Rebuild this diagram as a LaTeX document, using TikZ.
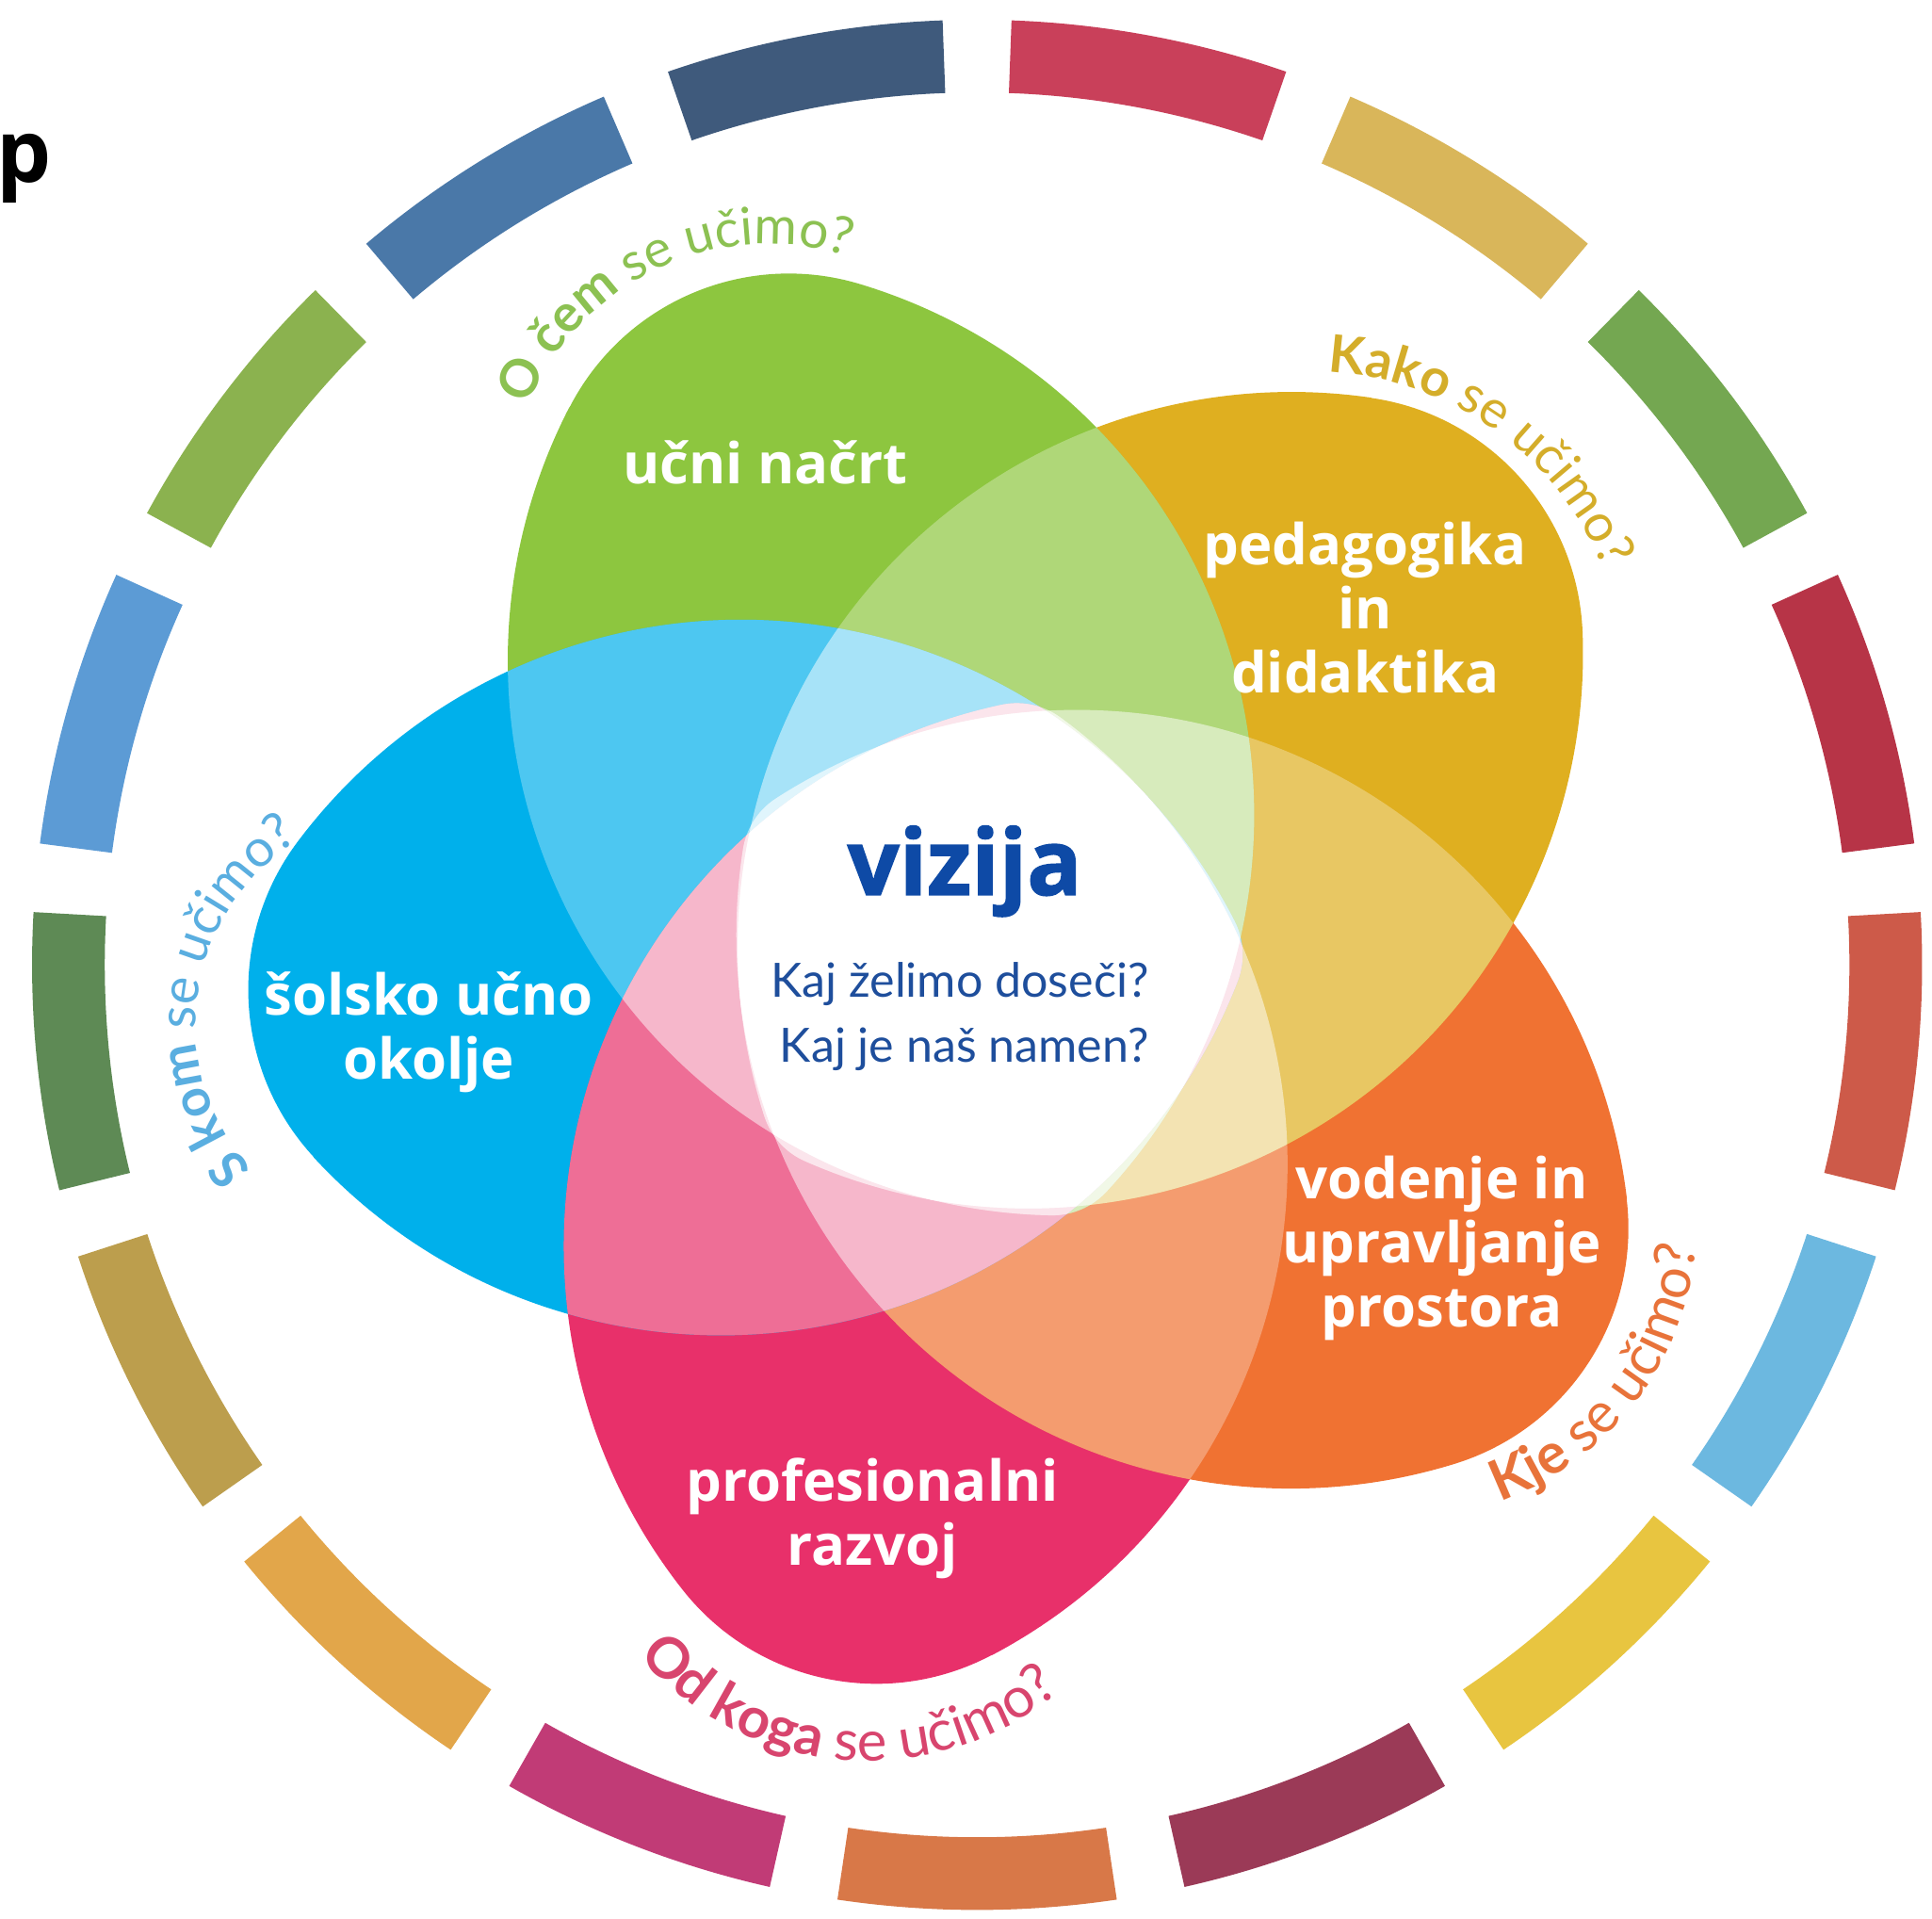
\documentclass[tikz,border=0pt]{standalone}
\usepackage{fontspec}
\setmainfont{Open Sans}
\newfontfamily\latofont{Lato}
\usetikzlibrary{decorations.text}
% petal colours
\definecolor{petgreen}{HTML}{8DC63F}
\definecolor{petyellow}{HTML}{DFAF20}
\definecolor{petorange}{HTML}{F07232}
\definecolor{petpink}{HTML}{E8306A}
\definecolor{petblue}{HTML}{00B0EB}
\definecolor{visionblue}{HTML}{0E4AA6}
\definecolor{questblue}{HTML}{1E4E9C}
% label colours
\definecolor{qgreen}{HTML}{8CC152}
\definecolor{qgold}{HTML}{D4AD2A}
\definecolor{qblue}{HTML}{5AAEE0}
\definecolor{qorange}{HTML}{E8733A}
\definecolor{qpink}{HTML}{D8456E}
% ring colours
\definecolor{sdgA}{HTML}{C9405A}
\definecolor{sdgB}{HTML}{D9B65A}
\definecolor{sdgC}{HTML}{74A751}
\definecolor{sdgD}{HTML}{B73447}
\definecolor{sdgE}{HTML}{CD5A49}
\definecolor{sdgF}{HTML}{6CB8E0}
\definecolor{sdgG}{HTML}{E8C540}
\definecolor{sdgH}{HTML}{9B3A57}
\definecolor{sdgI}{HTML}{D87848}
\definecolor{sdgJ}{HTML}{C13B76}
\definecolor{sdgK}{HTML}{E2A64A}
\definecolor{sdgL}{HTML}{BC9E4D}
\definecolor{sdgM}{HTML}{5E8A55}
\definecolor{sdgN}{HTML}{5C9BD5}
\definecolor{sdgO}{HTML}{8BB24F}
\definecolor{sdgP}{HTML}{4A78A8}
\definecolor{sdgQ}{HTML}{3F5A7C}
\newcommand\ringfont{\latofont\fontsize{12}{14}\selectfont}
\newcommand\ringfontlow{\latofont\fontsize{13}{15}\selectfont}
\def\petalshape{(545.7,128.0) arc[start angle=39.8, end angle=155.8, radius=450]
  arc[start angle=155.8, end angle=204.2, radius=60]
  arc[start angle=204.2, end angle=320.2, radius=450]
  arc[start angle=-39.8, end angle=39.8, radius=200] -- cycle}
\tikzset{
  petal/.style={shift={(793,-783)}, rotate=#1},
  petallabel/.style={font=\fontsize{13}{14.8}\selectfont\bfseries,
    text=white, align=center, inner sep=0pt},
  ringlabel/.style={decorate, decoration={text along path,
    text align=center, text color=#1, text={}}},
}
\begin{document}
\begin{tikzpicture}[x=0.01cm, y=0.01cm]
  \useasboundingbox (0,0) rectangle (1568,-1557);
  \fill[white] (0,0) rectangle (1568,-1557);
  \coordinate (ring) at (793,-783);

  % Outer ring
  \foreach \c [count=\k] in {sdgA,sdgB,sdgC,sdgD,sdgE,sdgF,sdgG,sdgH,sdgI,
                             sdgJ,sdgK,sdgL,sdgM,sdgN,sdgO,sdgP,sdgQ} {
    \pgfmathsetmacro\sa{79.41-(\k-1)*21.176+8.5}
    \pgfmathsetmacro\ea{79.41-(\k-1)*21.176-8.5}
    \fill[\c, shift={(ring)}] (\sa:767) arc[start angle=\sa, end angle=\ea, radius=767]
      -- (\ea:708) arc[start angle=\ea, end angle=\sa, radius=708] -- cycle;
  }

  % Petals
  \fill[petpink, petal=-102] \petalshape;
  \fill[petorange, petal=-33] \petalshape;
  \fill[petyellow, petal=42] \petalshape;
  \fill[petgreen, petal=113] \petalshape;
  \fill[petblue, petal=183] \petalshape;
  \begin{scope}
    \clip[petal=183] \petalshape;
    \fill[petpink, petal=-102] \petalshape;
  \end{scope}

  % Overlaps get lighter
  \foreach \a/\b in {113/42,113/-33,113/-102,113/183,42/-33,42/-102,42/183,
                     -33/-102,-33/183,-102/183} {
    \begin{scope}
      \clip[petal=\a] \petalshape;
      \fill[white, fill opacity=.3, petal=\b] \petalshape;
    \end{scope}
  }
  % where all five meet
  \begin{scope}
    \clip[petal=113] \petalshape;
    \clip[petal=42] \petalshape;
    \clip[petal=-33] \petalshape;
    \clip[petal=-102] \petalshape;
    \clip[petal=183] \petalshape;
    \fill[white] (0,0) rectangle (1568,-1557);
  \end{scope}

  % Petal labels
  \node[petallabel] (ucni) at (621,-375) {učni načrt};
  \node[petallabel] (pedag) at (1108,-493) {pedagogika\\in\\didaktika};
  \node[petallabel] (okolje) at (348,-838) {šolsko učno\\okolje};
  \node[petallabel] (vodenje) at (1170,-1013) {vodenje in\\upravljanje\\prostora};
  \node[petallabel] (razvoj) at (708,-1232) {profesionalni\\razvoj};

  % Centre
  \node[font=\fontsize{21}{24}\selectfont\bfseries\addfontfeatures{FakeBold=1.5},
        text=visionblue, inner sep=0pt] (vizija) at (783,-707) {vizija};
  \node[font=\latofont\fontsize{10.9}{15}\selectfont, text=questblue,
        align=right, inner sep=0pt] (kaj) at (779,-825)
        {Kaj želimo doseči?\\Kaj je naš namen?};

  % Questions round the petals
  \path[ringlabel=qgreen, decoration={text={|\ringfont\bfseries|O čem |\ringfont\mdseries|se učimo?}}]
    (624,-409) ++(160:211) arc[start angle=160, end angle=70, radius=211];
  \path[ringlabel=qgold, decoration={text={|\ringfont\bfseries|Kako |\ringfont\mdseries|se učimo?}}]
    (1066,-555) ++(100:253) arc[start angle=100, end angle=9, radius=253];
  \path[ringlabel=qblue, decoration={text={|\ringfont\bfseries|S kom |\ringfont\mdseries|se učimo?}}]
    (334,-831) ++(226:175) arc[start angle=226, end angle=118, radius=175];
  \path[ringlabel=qorange, decoration={text={|\ringfontlow\bfseries|Kje |\ringfontlow\mdseries|se učimo?}}]
    (1137,-992) ++(-85:240) arc[start angle=-85, end angle=10, radius=240];
  \path[ringlabel=qpink, decoration={text={|\ringfontlow\bfseries|Od koga |\ringfontlow\mdseries|se učimo?}}]
    (704,-1184) ++(-147:245) arc[start angle=-147, end angle=-42.6, radius=245];

  % cut letter at the left edge
  \node[font=\fontsize{20}{20}\selectfont\bfseries, anchor=base west,
        inner sep=0pt] (pcut) at (-3,-148) {p};
\end{tikzpicture}
\end{document}
